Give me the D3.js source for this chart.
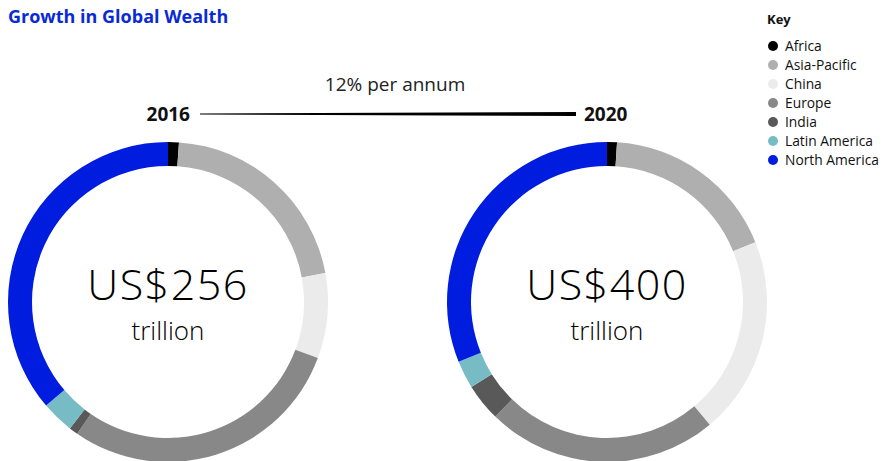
<!DOCTYPE html>
<html>
<head>
<meta charset="utf-8">
<script src="https://cdn.jsdelivr.net/npm/d3@7"></script>
<style>
  body { margin: 0; background: #fff; }
  text { font-family: "Open Sans", "Noto Sans", sans-serif; }
</style>
</head>
<body>
<div id="chart"></div>
<script>
// data
var regions = ["Africa", "Asia-Pacific", "China", "Europe", "India", "Latin America", "North America"];
var colors  = ["#000000", "#afafaf", "#ebebeb", "#888888", "#595959", "#77bbc4", "#001ddf"];
var years   = ["2016", "2020"];
var totals  = ["US$256", "US$400"];
var wealth2016 = [2.8, 53.8, 22, 74, 2.3, 8.4, 92.7];
var wealth2020 = [4, 71.6, 80, 93.6, 15.2, 11.2, 124.4];
var growthLabel = "12% per annum";

var width = 886, height = 461;

var svg = d3.select("#chart")
  .append("svg")
  .attr("width", width)
  .attr("height", height);

var color = d3.scaleOrdinal().domain(regions).range(colors);

// title
svg.append("text")
  .attr("x", 8).attr("y", 23)
  .style("font-size", "18px")
  .style("font-weight", "bold")
  .style("fill", "#0a2ad6")
  .text("Growth in Global Wealth");

// donuts
var pie = d3.pie().sort(null).value(d => d.v);
var arc = d3.arc().innerRadius(136).outerRadius(160);
var centers = [[168, 302], [607, 302]];

[wealth2016, wealth2020].forEach(function(vals, i) {
  var g = svg.append("g")
    .attr("transform", `translate(${centers[i][0]},${centers[i][1]})`);

  g.selectAll("path")
    .data(pie(regions.map((r, j) => ({ r: r, v: vals[j] }))))
    .enter()
    .append("path")
    .attr("d", arc)
    .attr("fill", d => color(d.data.r));

  g.append("text")
    .attr("x", 0).attr("y", -2)
    .attr("text-anchor", "middle")
    .style("font-size", "43px")
    .style("letter-spacing", "1.5px")
    .style("font-weight", 300)
    .style("fill", "#000")
    .text(totals[i]);

  g.append("text")
    .attr("x", 0).attr("y", 38)
    .attr("text-anchor", "middle")
    .style("font-size", "26px")
    .style("font-weight", 300)
    .style("fill", "#000")
    .text("trillion");
});

// growth connector
svg.append("text")
  .attr("x", 395).attr("y", 91)
  .attr("text-anchor", "middle")
  .style("font-size", "19px")
  .style("fill", "#222")
  .text(growthLabel);

svg.append("text")
  .attr("x", 190).attr("y", 121)
  .attr("text-anchor", "end")
  .style("font-size", "19px")
  .style("font-weight", "bold")
  .style("fill", "#111")
  .text(years[0]);

svg.append("text")
  .attr("x", 584).attr("y", 121)
  .style("font-size", "19px")
  .style("font-weight", "bold")
  .style("fill", "#111")
  .text(years[1]);

svg.append("path")
  .attr("d", "M200,113.5 L576,112 L576,116 L200,114.5 Z")
  .attr("fill", "#000");

// legend
var legend = svg.append("g").attr("transform", "translate(767,0)");
legend.append("text")
  .attr("x", 0).attr("y", 24)
  .style("font-size", "13px")
  .style("font-weight", "bold")
  .style("fill", "#111")
  .text("Key");

var item = legend.selectAll(".item")
  .data(regions)
  .enter()
  .append("g")
  .attr("class", "item")
  .attr("transform", (d, i) => `translate(0,${46 + i * 19})`);

item.append("circle")
  .attr("cx", 6).attr("cy", 0).attr("r", 5)
  .attr("fill", d => color(d));

item.append("text")
  .attr("x", 18).attr("y", 0)
  .attr("dy", "0.35em")
  .style("font-size", "13.8px")
  .style("fill", "#111")
  .text(d => d);
</script>
</body>
</html>
